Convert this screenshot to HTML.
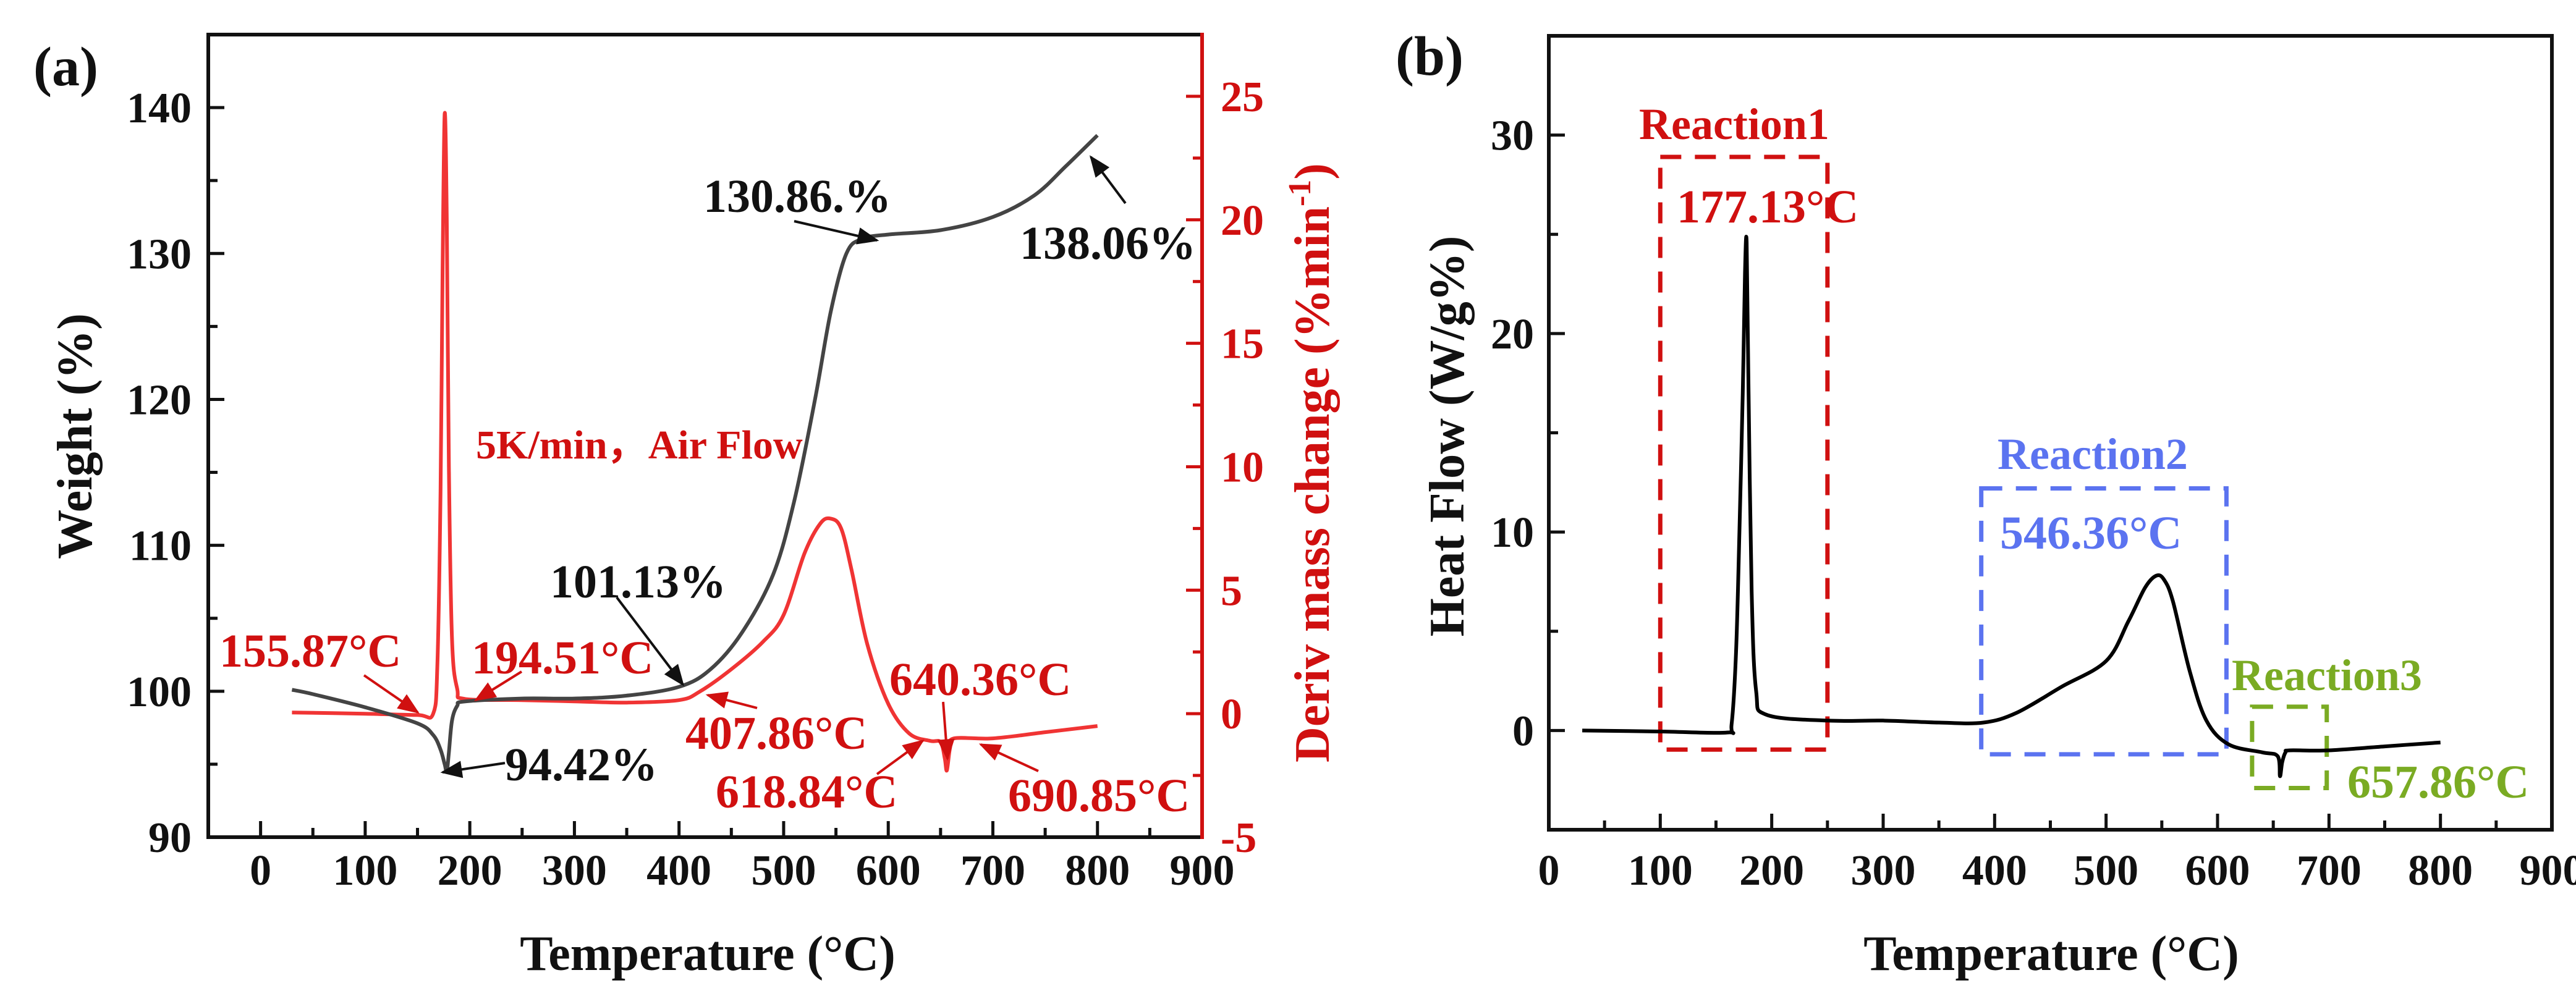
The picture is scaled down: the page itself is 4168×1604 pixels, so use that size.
<!DOCTYPE html>
<html><head><meta charset="utf-8"><style>
html,body{margin:0;padding:0;background:#fff;}
svg{display:block;font-family:"Liberation Serif",serif;font-weight:bold;}
</style></head><body>
<svg id="fig" width="4168" height="1604" viewBox="0 0 4168 1604" xmlns="http://www.w3.org/2000/svg">
<defs>
<marker id="ahk" viewBox="0 0 10 8" refX="9" refY="4" markerWidth="36" markerHeight="28" orient="auto" markerUnits="userSpaceOnUse"><path d="M0,0 L10,4 L0,8 Z" fill="#111"/></marker>
<marker id="ahr" viewBox="0 0 10 8" refX="9" refY="4" markerWidth="36" markerHeight="28" orient="auto" markerUnits="userSpaceOnUse"><path d="M0,0 L10,4 L0,8 Z" fill="#d01010"/></marker></defs>
<text x="2150" y="749" font-size="80" fill="#d01010" text-anchor="middle" transform="rotate(-90 2150 749)">Deriv mass change (%min<tspan dy="-30" font-size="52">-1</tspan><tspan dy="30">)</tspan></text>
</svg>
<script>
// Panel (a) TG data
const tgTemp=[30,50,100,150,165,172,176,178,180,183,188,195,250,300,350,400,430,460,490,510,530,545,560,575,600,650,700,740,770,800];
const tgWeight=[100.1,99.8,98.9,97.8,97.0,96.0,95.0,94.5,95.8,98.0,99.0,99.3,99.5,99.5,99.7,100.3,101.5,104,108,113,120,126,130,131,131.3,131.6,132.5,134,136,138.1];
// Panel (a) DTG data
const dtgTemp=[30,100,150,165,169,172,174,176,178,180,183,188,195,250,300,350,400,420,450,480,500,520,535,545,555,565,580,600,620,640,650,654,656,659,663,700,750,800];
const dtgValue=[0.05,0.0,-0.05,0.0,2,9,18,24.3,20,10,3,1.0,0.6,0.55,0.5,0.45,0.55,0.9,1.8,2.9,4.0,6.5,7.7,7.9,7.5,5.8,2.8,0.4,-0.8,-1.1,-1.15,-1.8,-2.3,-1.4,-1.0,-1.0,-0.75,-0.5];
// Panel (b) DSC data
const dscTemp=[30,100,160,164,168,171,174,176,177.5,179,182,186,195,250,300,350,390,420,460,500,520,535,545,552,560,575,590,610,640,654,656,658,661,665,700,750,800];
const dscValue=[0,-0.05,-0.1,0.3,4,10,17,23,24.6,18,7,2,0.8,0.5,0.5,0.4,0.4,0.9,2.2,3.5,5.5,7.2,7.8,7.6,6.5,3,0.5,-0.7,-1.1,-1.3,-2.3,-1.6,-1.1,-1.0,-1.0,-0.8,-0.6];
const xTicksA=[0,100,200,300,400,500,600,700,800,900];
const yTicksA=[90,100,110,120,130,140];
const y2TicksA=[-5,0,5,10,15,20,25];
const xTicksB=[0,100,200,300,400,500,600,700,800,900];
const yTicksB=[0,10,20,30];

const svg=document.getElementById('fig');
const NS='http://www.w3.org/2000/svg';
function mk(tag,attrs,parent){const e=document.createElementNS(NS,tag);for(const k in attrs)e.setAttribute(k,attrs[k]);(parent||svg).appendChild(e);return e;}
function txt(s,x,y,size,fill,anchor,name,rot){const t=mk('text',{x:x,y:y,'font-size':size,fill:fill,'text-anchor':anchor||'start'});if(rot)t.setAttribute('transform','rotate(-90 '+x+' '+y+')');t.textContent=s;


return t;}
function lin(d0,d1,p0,p1){return v=>p0+(v-d0)/(d1-d0)*(p1-p0);}

// ---------- Panel A ----------
const AL=337,AR=1945,AT=56,AB=1355;
const xA=lin(-50,900,AL,AR), yA=lin(90,145,AB,AT), y2A=lin(-5,27.5,AB,AT);
for(let v=0;v<=900;v+=50){const x=xA(v),maj=v%100===0;const l=mk('line',{x1:x,x2:x,y1:AB,y2:AB-(maj?26:15),stroke:'#111','stroke-width':5});}
for(let v=90;v<=145;v+=5){const y=yA(v),maj=v%10===0;const l=mk('line',{x1:AL,x2:AL+(maj?26:15),y1:y,y2:y,stroke:'#111','stroke-width':5});}
for(let v=-5;v<=27.5;v+=2.5){const y=y2A(v),maj=v%5===0;const l=mk('line',{x1:AR,x2:AR-(maj?26:15),y1:y,y2:y,stroke:'#d01010','stroke-width':5});}
xTicksA.forEach(v=>txt(String(v),xA(v),1432,70,'#111','middle','x-tick-label-a'));
yTicksA.forEach(v=>txt(String(v),310,yA(v)+24,70,'#111','end','y-tick-label-a'));
y2TicksA.forEach(v=>txt(String(v),1975,y2A(v)+24,70,'#d01010','start','y2-tick-label-a'));
function curve(X,Y,fx,fy,color,name){
  const P=X.map((t,i)=>[fx(t),fy(Y[i])]);
  let d='M'+P[0][0].toFixed(1)+','+P[0][1].toFixed(1);
  for(let i=0;i<P.length-1;i++){const p0=P[Math.max(0,i-1)],p1=P[i],p2=P[i+1],p3=P[Math.min(P.length-1,i+2)];
    const c1=[p1[0]+(p2[0]-p0[0])/6,p1[1]+(p2[1]-p0[1])/6],c2=[p2[0]-(p3[0]-p1[0])/6,p2[1]-(p3[1]-p1[1])/6];
    d+=' C'+c1[0].toFixed(1)+','+c1[1].toFixed(1)+' '+c2[0].toFixed(1)+','+c2[1].toFixed(1)+' '+p2[0].toFixed(1)+','+p2[1].toFixed(1);}
  const e=mk('path',{d:d,fill:'none',stroke:color,'stroke-width':6,'stroke-linejoin':'round'});}
curve(dtgTemp,dtgValue,xA,y2A,'#f03434','dtg-curve');
curve(tgTemp,tgWeight,xA,yA,'#444','tg-curve');
const fa=mk('rect',{x:AL,y:AT,width:AR-AL,height:AB-AT,fill:'none',stroke:'#111','stroke-width':6});
const ra=mk('line',{x1:AR,x2:AR,y1:AT-3,y2:AB+3,stroke:'#d01010','stroke-width':6});
txt('Temperature (°C)',1145,1570,80,'#111','middle','x-axis-title-a');
txt('Weight (%)',148,706,80,'#111','middle','y-axis-title-a',true);
txt('(a)',54,138,90,'#111','start','panel-label-a');
txt('5K/min，Air Flow',770,742,66,'#d01010','start','condition-label');
function arrow(x1,y1,x2,y2,red,name){const e=mk('line',{x1:x1,y1:y1,x2:x2,y2:y2,stroke:red?'#d01010':'#111','stroke-width':4,'marker-end':red?'url(#ahr)':'url(#ahk)'});}
const K='#111',R='#d01010';
txt('130.86.%',1138,343,76,K,'start','annotation-130');arrow(1285,358,1419,389,0,'arrow-130');
txt('138.06%',1650,419,76,K,'start','annotation-138');arrow(1821,329,1765,254,0,'arrow-138');
txt('101.13%',890,967,76,K,'start','annotation-101');arrow(998,967,1105,1108,0,'arrow-101');
txt('94.42%',817,1263,76,K,'start','annotation-94');arrow(817,1235,716,1250,0,'arrow-94');
txt('155.87°C',355,1079,76,R,'start','annotation-155');arrow(589,1093,676,1153,1,'arrow-155');
txt('194.51°C',763,1090,76,R,'start','annotation-194');arrow(844,1087,770,1133,1,'arrow-194');
txt('407.86°C',1109,1212,76,R,'start','annotation-407');arrow(1225,1146,1145,1125,1,'arrow-407');
txt('640.36°C',1439,1125,76,R,'start','annotation-640');arrow(1526,1136,1533,1228,1,'arrow-640');
txt('618.84°C',1158,1307,76,R,'start','annotation-618');arrow(1419,1253,1493,1199,1,'arrow-618');
txt('690.85°C',1631,1313,76,R,'start','annotation-690');arrow(1680,1248,1587,1205,1,'arrow-690');

// ---------- Panel B ----------
const BL=2506,BR=4129,BT=58,BB=1343;
const xB=lin(0,900,BL,BR), yB=lin(-5,35,BB,BT);
for(let v=0;v<=900;v+=50){const x=xB(v),maj=v%100===0;const l=mk('line',{x1:x,x2:x,y1:BB,y2:BB-(maj?26:15),stroke:'#111','stroke-width':5});}
for(let v=-5;v<=35;v+=5){const y=yB(v),maj=v%10===0;const l=mk('line',{x1:BL,x2:BL+(maj?26:15),y1:y,y2:y,stroke:'#111','stroke-width':5});}
xTicksB.forEach(v=>txt(String(v),xB(v),1432,70,'#111','middle','x-tick-label-b'));
yTicksB.forEach(v=>txt(String(v),2482,yB(v)+24,70,'#111','end','y-tick-label-b'));
function box(t0,t1,v0,v1,color,name){const e=mk('rect',{x:xB(t0),y:yB(v1),width:xB(t1)-xB(t0),height:yB(v0)-yB(v1),fill:'none',stroke:color,'stroke-width':7,'stroke-dasharray':'34 22'});}
box(100,250,-0.96,28.9,'#d01010','reaction1-box');
box(388,608,-1.2,12.2,'#5b73f0','reaction2-box');
box(631,698,-2.9,1.2,'#7aab23','reaction3-box');
curve(dscTemp,dscValue,xB,yB,'#000','dsc-curve');
const fb=mk('rect',{x:BL,y:BT,width:BR-BL,height:BB-BT,fill:'none',stroke:'#111','stroke-width':6});
txt('Temperature (°C)',3319,1570,80,'#111','middle','x-axis-title-b');
txt('Heat Flow (W/g%)',2368,706,80,'#111','middle','y-axis-title-b',true);
txt('(b)',2258,121,90,'#111','start','panel-label-b');
txt('Reaction1',2652,225,72,'#d01010','start','reaction1-label');
txt('177.13°C',2713,360,76,'#d01010','start','reaction1-temp');
txt('Reaction2',3232,759,72,'#5b73f0','start','reaction2-label');
txt('546.36°C',3236,888,76,'#5b73f0','start','reaction2-temp');
txt('Reaction3',3611,1117,72,'#7aab23','start','reaction3-label');
txt('657.86°C',3798,1291,76,'#7aab23','start','reaction3-temp');
</script>
</body></html>
